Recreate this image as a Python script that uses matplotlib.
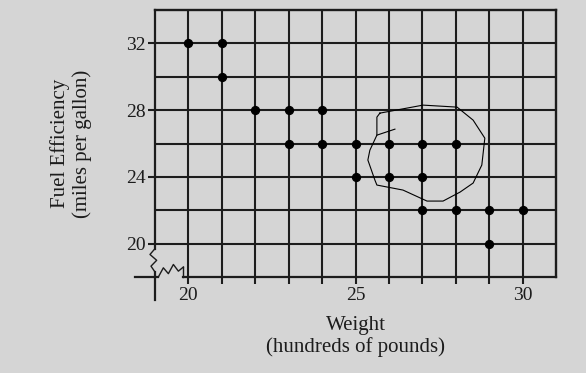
import numpy as np
import matplotlib
matplotlib.use('Agg')
import matplotlib.pyplot as plt

# data
weight = [20, 21, 21, 22, 23, 24, 23, 24, 25, 26, 27, 28,
          25, 26, 27, 27, 28, 29, 30, 29]
mpg = [32, 32, 30, 28, 28, 28, 26, 26, 26, 26, 26, 26,
       24, 24, 24, 22, 22, 22, 22, 20]
y_ticks = [20, 24, 28, 32]
x_labels = {20: '20', 25: '25', 30: '30'}

# freehand loop drawn on the page
circle_x = [25.73, 27.02, 28.04, 28.52, 28.87, 28.78, 28.52, 28.13, 27.62,
            27.14, 26.42, 25.64, 25.58, 25.37, 25.43, 25.64, 25.64, 25.73]
circle_y = [27.82, 28.30, 28.18, 27.40, 26.32, 24.71, 23.63, 23.09, 22.55,
            22.55, 23.21, 23.51, 23.81, 25.01, 25.60, 26.50, 27.58, 27.82]
stroke_x = [25.64, 26.18]
stroke_y = [26.50, 26.86]

BG = '#d5d5d5'
INK = '#1c1c1c'

plt.rcParams['font.family'] = ['Liberation Serif', 'DejaVu Serif']

fig = plt.figure(figsize=(5.86, 3.73), dpi=100, facecolor=BG)
ax = fig.add_axes([155 / 586, 1 - 277 / 373, 401 / 586, 267 / 373])
ax.set_facecolor(BG)

xmin, xmax, ymin, ymax = 19, 31, 18, 34
ax.set_xlim(xmin, xmax)
ax.set_ylim(ymin, ymax)

# grid
for x in range(xmin + 1, xmax):
    ax.plot([x, x], [ymin, ymax], color=INK, lw=1.5, zorder=1)
for y in range(ymin + 2, ymax, 2):
    ax.plot([xmin, xmax], [y, y], color=INK, lw=1.5, zorder=1)

for s in ['left', 'bottom']:
    ax.spines[s].set_visible(False)
for s in ['top', 'right']:
    ax.spines[s].set_color(INK)
    ax.spines[s].set_linewidth(1.7)

# axis lines with break marks
kw = dict(color=INK, lw=1.6, clip_on=False, zorder=3)
ax.plot([19, 19], [34, 19.7], **kw)
zz_y = np.array([19.7, 19.35, 19.0, 18.65, 18.3])
zz_x = 19 + np.array([0, -0.15, 0.05, -0.12, 0])
ax.plot(zz_x, zz_y, color=INK, lw=1.0, clip_on=False, zorder=3)
ax.plot([19, 19], [18.3, 16.6], **kw)

ax.plot([18.4, 19.1], [18, 18], **kw)
zx = np.array([19.1, 19.25, 19.4, 19.55, 19.7, 19.85])
zy = 18 + np.array([0, 0.55, 0.2, 0.75, 0.35, 0.6])
ax.plot(zx, zy, color=INK, lw=1.0, clip_on=False, zorder=3)
ax.plot([19.85, 19.85], [18.6, 18], color=INK, lw=1.0, clip_on=False, zorder=3)
ax.plot([19.85, 31], [18, 18], **kw)

# ticks
ax.set_xticks(range(20, 31))
ax.set_xticklabels([x_labels.get(x, '') for x in range(20, 31)])
ax.set_yticks(y_ticks)
ax.set_yticklabels([str(v) for v in y_ticks])
ax.tick_params(axis='both', direction='out', length=5, width=1.5, color=INK,
               labelsize=14, labelcolor=INK, pad=2)

ax.scatter(weight, mpg, s=32, color='black', zorder=4)

ax.plot(circle_x, circle_y, color='black', lw=0.8, zorder=5)
ax.plot(stroke_x, stroke_y, color='black', lw=0.8, zorder=5)

ax.set_xlabel('Weight\n(hundreds of pounds)', fontsize=15, color=INK,
              linespacing=1.15, labelpad=9)
ax.set_ylabel('Fuel Efficiency\n(miles per gallon)', fontsize=15, color=INK,
              linespacing=1.15, labelpad=24)

fig.savefig('out.png', dpi=100, facecolor=BG)
